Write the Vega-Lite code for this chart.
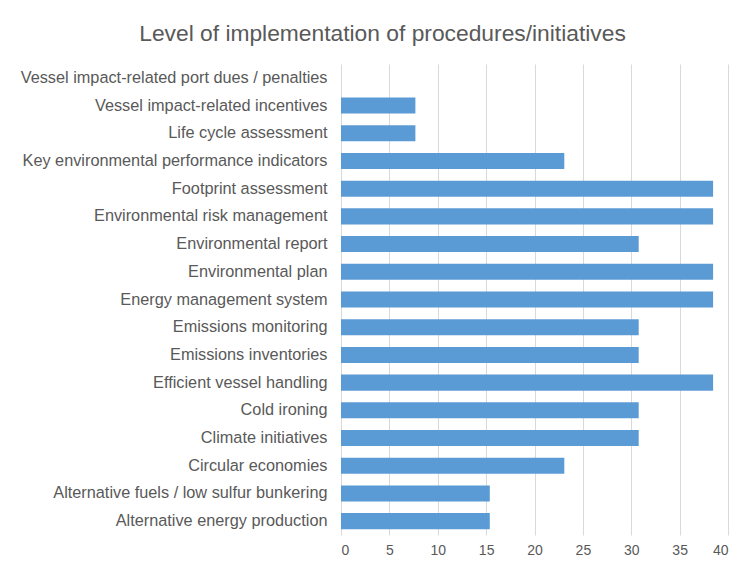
{
  "$schema": "https://vega.github.io/schema/vega-lite/v6.json",
  "width": 387,
  "height": 471,
  "autosize": {"type": "none"},
  "padding": {"left": 341, "top": 64, "right": 15, "bottom": 33},
  "background": "white",
  "title": {
    "text": "Level of implementation of procedures/initiatives",
    "font": "Liberation Sans",
    "fontSize": 22.8,
    "fontWeight": "normal",
    "color": "#595959",
    "anchor": "middle",
    "dx": -152,
    "offset": 18
  },
  "data": {
    "values": [
      {"item": "Vessel impact-related port dues / penalties", "value": 0},
      {"item": "Vessel impact-related incentives", "value": 7.69},
      {"item": "Life cycle assessment", "value": 7.69},
      {"item": "Key environmental performance indicators", "value": 23.08},
      {"item": "Footprint assessment", "value": 38.46},
      {"item": "Environmental risk management", "value": 38.46},
      {"item": "Environmental report", "value": 30.77},
      {"item": "Environmental plan", "value": 38.46},
      {"item": "Energy management system", "value": 38.46},
      {"item": "Emissions monitoring", "value": 30.77},
      {"item": "Emissions inventories", "value": 30.77},
      {"item": "Efficient vessel handling", "value": 38.46},
      {"item": "Cold ironing", "value": 30.77},
      {"item": "Climate initiatives", "value": 30.77},
      {"item": "Circular economies", "value": 23.08},
      {"item": "Alternative fuels / low sulfur bunkering", "value": 15.38},
      {"item": "Alternative energy production", "value": 15.38}
    ]
  },
  "mark": {"type": "bar", "color": "#5b9bd5"},
  "encoding": {
    "y": {
      "field": "item",
      "type": "nominal",
      "sort": null,
      "title": null,
      "scale": {"paddingInner": 0.42, "paddingOuter": 0.21},
      "axis": {
        "ticks": false,
        "domain": false,
        "labelFont": "Liberation Sans",
        "labelFontSize": 16.3,
        "labelColor": "#595959",
        "labelPadding": 14,
        "labelLimit": 400
      }
    },
    "x": {
      "field": "value",
      "type": "quantitative",
      "title": null,
      "scale": {"domain": [0, 40], "nice": false},
      "axis": {
        "values": [0, 5, 10, 15, 20, 25, 30, 35, 40],
        "ticks": false,
        "domain": false,
        "grid": true,
        "gridColor": "#d9d9d9",
        "gridWidth": 1,
        "labelFont": "Liberation Sans",
        "labelFontSize": 14,
        "labelColor": "#595959",
        "labelPadding": 8
      }
    }
  },
  "config": {"view": {"stroke": null}}
}
